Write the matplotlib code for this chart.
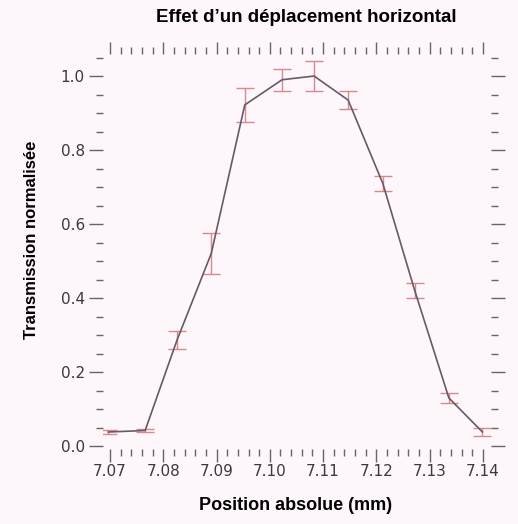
import numpy as np
import matplotlib.pyplot as plt
from matplotlib.ticker import MultipleLocator, FormatStrFormatter

# position (mm), normalised transmission and its uncertainty
position = [7.0697, 7.0766, 7.0826, 7.0890, 7.0953, 7.1023, 7.1083, 7.1147, 7.1212, 7.1272, 7.1336, 7.1399]
transmission = [0.038, 0.042, 0.287, 0.52, 0.922, 0.99, 1.0, 0.935, 0.71, 0.42, 0.13, 0.038]
erreur = [0.005, 0.005, 0.025, 0.055, 0.046, 0.03, 0.04, 0.025, 0.02, 0.02, 0.014, 0.01]

bg = '#fdf6fb'
fig = plt.figure(figsize=(5.18, 5.24), dpi=100, facecolor=bg)
ax = fig.add_axes([0.1988, 0.1431, 0.749, 0.7538], facecolor=bg)

ax.errorbar(position, transmission, yerr=erreur, color='#675a66', lw=1.2,
            ecolor='#d9898c', elinewidth=1.0, capsize=6.5, capthick=1.0)

ax.set_xlim(7.06869, 7.1415)
ax.set_ylim(-0.008, 1.0595)

for s in ax.spines.values():
    s.set_visible(False)

ax.xaxis.set_major_locator(MultipleLocator(0.01))
ax.xaxis.set_minor_locator(MultipleLocator(0.002))
ax.xaxis.set_major_formatter(FormatStrFormatter('%.2f'))
ax.yaxis.set_major_locator(MultipleLocator(0.2))
ax.yaxis.set_minor_locator(MultipleLocator(0.05))
ax.yaxis.set_major_formatter(FormatStrFormatter('%.1f'))

ax.tick_params(which='both', direction='out', color='#666666', width=1.0,
               top=True, right=True, labelsize=11, labelcolor='#3a3a3a')
ax.tick_params(which='major', length=9, pad=2)
ax.tick_params(which='minor', length=5)
ax.tick_params(axis='y', which='major', length=10, pad=3)

lab = dict(family='Liberation Sans', weight='bold')
fig.text(306 / 518, 1 - 18 / 524, "Effet d\u2019un déplacement horizontal",
         ha='center', va='center', size=13.5, **lab)
fig.text(296 / 518, 1 - 505 / 524, "Position absolue (mm)",
         ha='center', va='center', size=13, **lab)
fig.text(32 / 518, 1 - 240 / 524, "Transmission normalisée",
         ha='center', va='center', rotation=90, size=12, **lab)

fig.savefig('out.png', dpi=100, facecolor=bg)
